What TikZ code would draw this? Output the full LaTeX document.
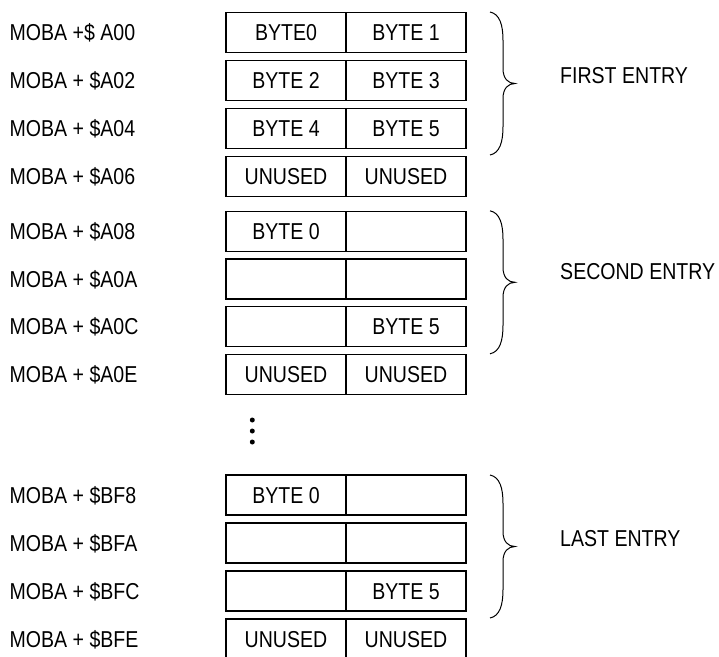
\documentclass[tikz,border=0pt]{standalone}
\usepackage{fontspec}
\setmainfont{Liberation Sans}[FakeStretch=0.85]
\usepackage{tikz}
\usetikzlibrary{positioning}
\tikzstyle{cell}=[draw,rectangle,line width=1.2pt,outer sep=0pt,minimum width=120pt,minimum height=40pt,inner sep=0pt,text height=16pt,text depth=0pt]
\tikzstyle{addr}=[anchor=west,inner sep=0pt,text height=16pt,text depth=0pt]

\begin{document}
\begin{tikzpicture}[
  x=1pt,y=-1pt,
  font=\fontsize{23}{27}\selectfont,
  entry/.style={anchor=west,inner sep=0pt,text height=16pt,text depth=0pt},
  entry brace/.pic={
    \draw[line width=1pt] (-25,-71.5) .. controls (-15,-69.5) and (-12,-58) .. (-12,-43)
      -- (-12,-15) .. controls (-12,-5) and (-7,0) .. (0,0)
      .. controls (-7,0) and (-12,5) .. (-12,15)
      -- (-12,43) .. controls (-12,58) and (-15,69.5) .. (-25,71.5);
  },
]
\clip (0,0) rectangle (719,656);

% first entry
\node[addr] (m1) at (9.5,32.2) {MOBA +\$ A00};
\node[addr] (m2) at (9.5,80.5) {MOBA + \$A02};
\node[addr] (m3) at (9.5,128.5) {MOBA + \$A04};
\node[addr] (m4) at (9.5,176.5) {MOBA + \$A06};
\node[cell] (a1) at (286,32.2) {BYTE0};
\node[cell,right=0pt of a1] (b1) {BYTE 1};
\node[cell] (a2) at (286,80.5) {BYTE 2};
\node[cell,right=0pt of a2] (b2) {BYTE 3};
\node[cell] (a3) at (286,128.5) {BYTE 4};
\node[cell,right=0pt of a3] (b3) {BYTE 5};
\node[cell] (a4) at (286,176.5) {UNUSED};
\node[cell,right=0pt of a4] (b4) {UNUSED};

% second entry
\node[addr] (m5) at (9.5,231.2) {MOBA + \$A08};
\node[addr] (m6) at (9.5,279) {MOBA + \$A0A};
\node[addr] (m7) at (9.5,326.5) {MOBA + \$A0C};
\node[addr] (m8) at (9.5,374.5) {MOBA + \$A0E};
\node[cell] (a5) at (286,231.2) {BYTE 0};
\node[cell,right=0pt of a5] (b5) {};
\node[cell] (a6) at (286,279) {};
\node[cell,right=0pt of a6] (b6) {};
\node[cell] (a7) at (286,326.5) {};
\node[cell,right=0pt of a7] (b7) {BYTE 5};
\node[cell] (a8) at (286,374.5) {UNUSED};
\node[cell,right=0pt of a8] (b8) {UNUSED};

% skipped entries
\fill (252.3,420) circle (2.5) (252.3,431) circle (2.5) (252.3,442) circle (2.5);

% last entry
\node[addr] (m9) at (9.5,495) {MOBA + \$BF8};
\node[addr] (m10) at (9.5,543) {MOBA + \$BFA};
\node[addr] (m11) at (9.5,591) {MOBA + \$BFC};
\node[addr] (m12) at (9.5,639) {MOBA + \$BFE};
\node[cell] (a9) at (286,495) {BYTE 0};
\node[cell,right=0pt of a9] (b9) {};
\node[cell] (a10) at (286,543) {};
\node[cell,right=0pt of a10] (b10) {};
\node[cell] (a11) at (286,591) {};
\node[cell,right=0pt of a11] (b11) {BYTE 5};
\node[cell] (a12) at (286,639) {UNUSED};
\node[cell,right=0pt of a12] (b12) {UNUSED};

\coordinate (t1) at (515,83.5);
\coordinate (t2) at (515,282.3);
\coordinate (t3) at (515,546.5);
\pic at (t1) {entry brace};
\pic at (t2) {entry brace};
\pic at (t3) {entry brace};
\node[entry] (e1) at (560,75) {FIRST ENTRY};
\node[entry] (e2) at (560,271.7) {SECOND ENTRY};
\node[entry] (e3) at (560,538) {LAST ENTRY};
\end{tikzpicture}
\end{document}
